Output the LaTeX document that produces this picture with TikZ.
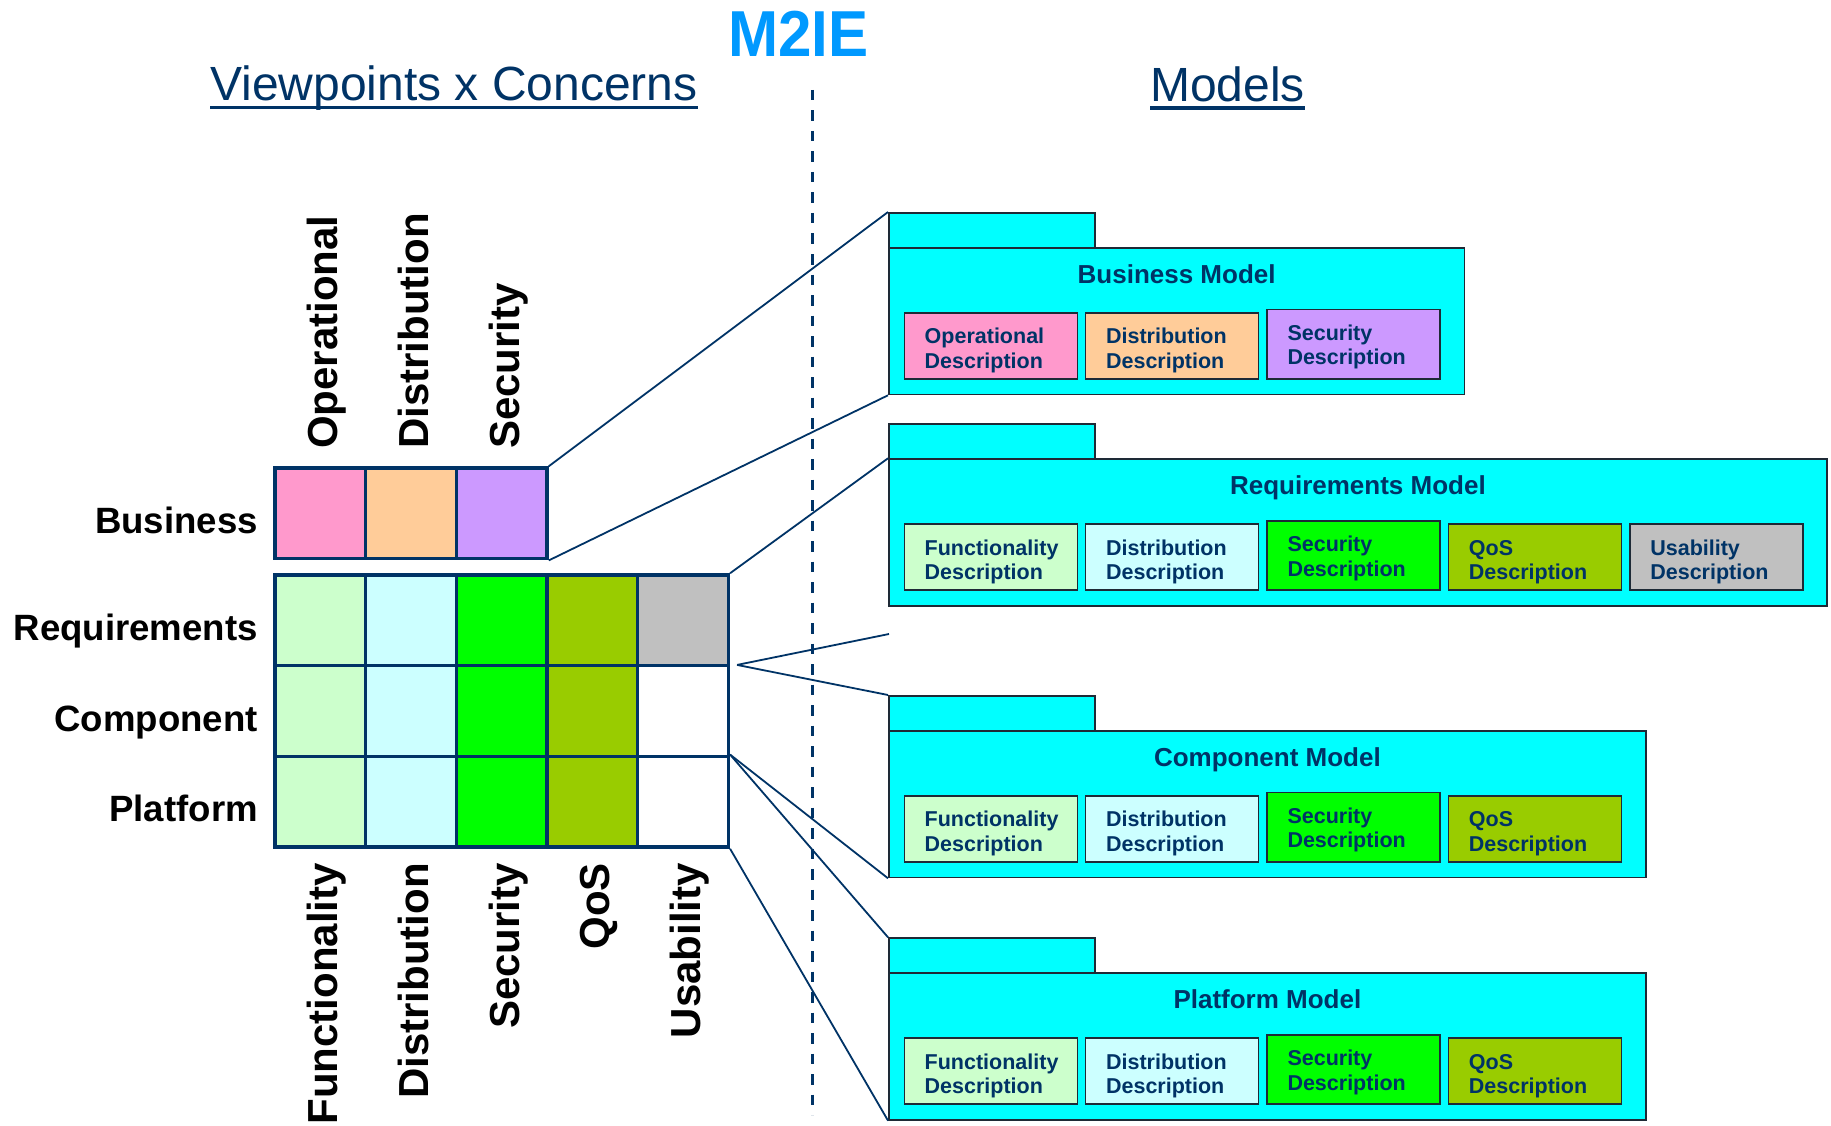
\documentclass[tikz,border=0pt]{standalone}
\usepackage{fontspec}
\setmainfont{Liberation Sans}
\usepackage{graphicx}
\definecolor{navy}{HTML}{003366}
\definecolor{m2blue}{HTML}{0099FF}
\definecolor{pkgcyan}{HTML}{00FFFF}
\definecolor{cpink}{HTML}{FF99CC}
\definecolor{cpeach}{HTML}{FFCC99}
\definecolor{clav}{HTML}{CC99FF}
\definecolor{clgreen}{HTML}{CCFFCC}
\definecolor{clcyan}{HTML}{CCFFFF}
\definecolor{cgreen}{HTML}{00FF00}
\definecolor{colive}{HTML}{99CC00}
\definecolor{cgray}{HTML}{C0C0C0}
\definecolor{edgec}{HTML}{1E2A36}
\newcommand{\mtwoline}[2]{\vtop{\hbox{#1}\hbox{#2}}}
\begin{document}
\begin{tikzpicture}[x=1pt, y=-1pt,
  cell/.style={rectangle, draw=navy, line width=3.5pt, minimum width=90.67pt, minimum height=90.67pt, inner sep=0pt},
  rowlab/.style={anchor=base east, inner sep=0pt, font=\fontsize{36.6}{40}\selectfont\bfseries},
  toplab/.style={rotate=90, anchor=base west, inner sep=0pt, font=\fontsize{42}{46}\selectfont\bfseries},
  botlab/.style={rotate=90, anchor=base east, inner sep=0pt, font=\fontsize{42}{46}\selectfont\bfseries},
  hdr/.style={anchor=base west, inner sep=0pt, text=navy, font=\fontsize{48}{52}\selectfont},
  hdrline/.style={draw=navy, line width=3.5pt},
  divider/.style={draw=navy, line width=2.3pt, dash pattern=on 10.5pt off 10pt},
  conn/.style={draw=navy, line width=1.8pt},
  pkgtab/.style={rectangle, draw=edgec, line width=1.8pt, fill=pkgcyan, anchor=north west, minimum width=206pt, minimum height=35pt, inner sep=0pt},
  pkgbody/.style={rectangle, draw=edgec, line width=1.8pt, fill=pkgcyan, anchor=north west, minimum height=146.5pt, inner sep=0pt},
  pkgtitle/.style={anchor=base, inner sep=0pt, text=navy, font=\fontsize{26}{30}\selectfont\bfseries},
  descbox/.style={rectangle, draw=edgec, line width=1.5pt, anchor=north west, minimum width=173pt, inner sep=0pt},
  desctext/.style={anchor=base west, inner sep=0pt, text=navy, font=\fontsize{21.5}{24.5}\selectfont\bfseries}
]
\useasboundingbox[fill=white] (0,0) rectangle (1831,1126);

% headers
\node[anchor=base west, inner sep=0pt, text=m2blue, font=\fontsize{65}{70}\selectfont\bfseries] (m2ie) at (728,56.7) {\scalebox{0.925}[1]{M2IE}};
\node[hdr] (vc) at (210,101) {Viewpoints x Concerns};
\draw[hdrline] ([yshift=-6.5pt]vc.base west) -- ([yshift=-6.5pt]vc.base east);
\node[hdr] (md) at (1150,101.5) {Models};
\draw[hdrline] ([yshift=-6.5pt]md.base west) -- ([yshift=-6.5pt]md.base east);

% divider
\coordinate (dtop) at (812.5,90);
\coordinate (dbot) at (812.5,1115);
\draw[divider] (dtop) -- (dbot);

% grid
\node[cell, fill=cpink]  (b1) at (320.33,513.33) {};
\node[cell, fill=cpeach] (b2) at (411,513.33) {};
\node[cell, fill=clav]   (b3) at (501.67,513.33) {};
\node[cell, fill=clgreen] (r1) at (320.33,620.33) {};
\node[cell, fill=clcyan]  (r2) at (411,620.33) {};
\node[cell, fill=cgreen]  (r3) at (501.67,620.33) {};
\node[cell, fill=colive]  (r4) at (592.33,620.33) {};
\node[cell, fill=cgray]   (r5) at (683,620.33) {};
\node[cell, fill=clgreen] (c1) at (320.33,711) {};
\node[cell, fill=clcyan]  (c2) at (411,711) {};
\node[cell, fill=cgreen]  (c3) at (501.67,711) {};
\node[cell, fill=colive]  (c4) at (592.33,711) {};
\node[cell, fill=white]   (c5) at (683,711) {};
\node[cell, fill=clgreen] (p1) at (320.33,801.67) {};
\node[cell, fill=clcyan]  (p2) at (411,801.67) {};
\node[cell, fill=cgreen]  (p3) at (501.67,801.67) {};
\node[cell, fill=colive]  (p4) at (592.33,801.67) {};
\node[cell, fill=white]   (p5) at (683,801.67) {};

% row labels
\node[rowlab] (lbus) at (258,533.5) {Business};
\node[rowlab] (lreq) at (258,640) {Requirements};
\node[rowlab] (lcom) at (258,731) {Component};
\node[rowlab] (lpla) at (258,821.5) {Platform};

% column labels
\node[toplab] (tope) at (337.8,449) {Operational};
\node[toplab] (tdis) at (428.5,449) {Distribution};
\node[toplab] (tsec) at (519.2,449) {Security};
\node[botlab] (bfun) at (337.8,863) {Functionality};
\node[botlab] (bdis) at (428.5,863) {Distribution};
\node[botlab] (bsec) at (519.2,863) {Security};
\node[botlab] (bqos) at (609.8,863) {QoS};
\node[botlab] (busa) at (700.5,863) {Usability};

% model packages
\foreach \m/\ty/\w/\ttl in {bm/247/575.5/Business Model, rm/458.3/938/Requirements Model, cm/730/757/Component Model, pm/972.3/757/Platform Model}{
  \node[pkgtab] (\m tab) at (888,\ty-35) {};
  \node[pkgbody, minimum width=\w pt] (\m body) at (888,\ty) {};
  \node[pkgtitle] (\m title) at ([yshift=-36.5pt]\m body.north) {\ttl};
}

\foreach \ii/\nm/\cl/\uu in {0/Operational/cpink/0, 1/Distribution/cpeach/0, 2/Security/clav/3.3}{
  \node[descbox, fill=\cl, minimum height=66pt+\uu pt] (bm\ii) at (903.5+\ii*181.4, 312-\uu) {};
  \node[desctext] (bm\ii t) at ([shift={(21,31.7)}]bm\ii.north west) {\mtwoline{\nm}{Description}};
}
\foreach \ii/\nm/\cl/\uu in {0/Functionality/clgreen/0, 1/Distribution/clcyan/0, 2/Security/cgreen/3.3, 3/QoS/colive/0, 4/Usability/cgray/0}{
  \node[descbox, fill=\cl, minimum height=66pt+\uu pt] (rm\ii) at (903.5+\ii*181.4, 523.3-\uu) {};
  \node[desctext] (rm\ii t) at ([shift={(21,31.7)}]rm\ii.north west) {\mtwoline{\nm}{Description}};
}
\foreach \ii/\nm/\cl/\uu in {0/Functionality/clgreen/0, 1/Distribution/clcyan/0, 2/Security/cgreen/3.3, 3/QoS/colive/0}{
  \node[descbox, fill=\cl, minimum height=66pt+\uu pt] (cm\ii) at (903.5+\ii*181.4, 795-\uu) {};
  \node[desctext] (cm\ii t) at ([shift={(21,31.7)}]cm\ii.north west) {\mtwoline{\nm}{Description}};
}
\foreach \ii/\nm/\cl/\uu in {0/Functionality/clgreen/0, 1/Distribution/clcyan/0, 2/Security/cgreen/3.3, 3/QoS/colive/0}{
  \node[descbox, fill=\cl, minimum height=66pt+\uu pt] (pm\ii) at (903.5+\ii*181.4, 1037.3-\uu) {};
  \node[desctext] (pm\ii t) at ([shift={(21,31.7)}]pm\ii.north west) {\mtwoline{\nm}{Description}};
}

% connectors
\coordinate (rfork) at ([shift={(7,-2.5)}]r5.south east);
\coordinate (rfree) at (889,634);
\draw[conn] (b3.north east) -- (bmtab.north west);
\draw[conn] (b3.south east) -- (bmbody.south west);
\draw[conn] (r5.north east) -- (rmbody.north west);
\draw[conn] (rfork) -- (rfree);
\draw[conn] (rfork) -- (cmtab.north west);
\draw[conn] (p5.north east) -- (cmbody.south west);
\draw[conn] (p5.north east) -- (pmtab.north west);
\draw[conn] (p5.south east) -- (pmbody.south west);
\end{tikzpicture}
\end{document}
